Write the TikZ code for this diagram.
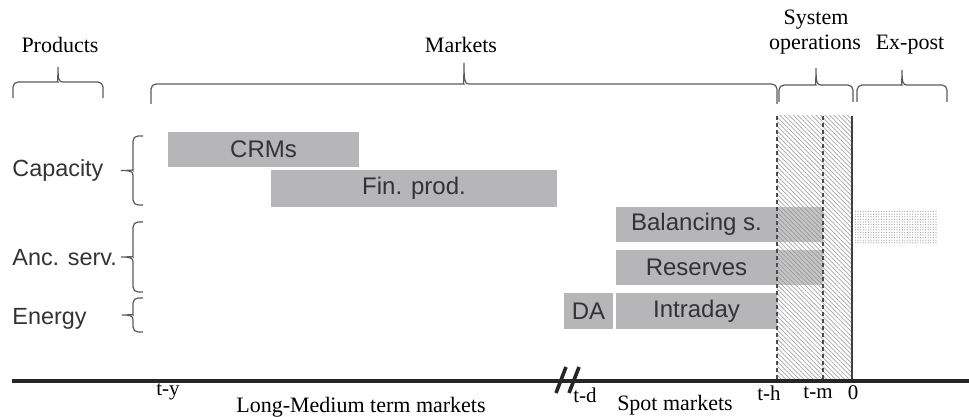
\documentclass[tikz,border=0pt]{standalone}
\usepackage{fontspec}
\setmainfont{Liberation Serif}
\setsansfont{Liberation Sans}
\usetikzlibrary{patterns.meta}
\definecolor{boxgray}{HTML}{B6B6B8}
\definecolor{txtgray}{HTML}{333335}
\definecolor{brgray}{HTML}{5A5A5A}
% horizontal brace pointing up: x1, x2, y of ends, y of bar, y of tip
\newcommand{\mytopbrace}[5]{%
  \draw[bracestyle] (#1,#3) [rounded corners=2.5pt] -- (#1,#4) -- ({(#1+#2)/2-5},#4) [sharp corners]
    .. controls ({(#1+#2)/2-1},#4) and ({(#1+#2)/2},{#4-2}) .. ({(#1+#2)/2},#5)
    .. controls ({(#1+#2)/2},{#4-2}) and ({(#1+#2)/2+1},#4) .. ({(#1+#2)/2+5},#4)
    [rounded corners=2.5pt] -- (#2,#4) -- (#2,#3);}
% vertical brace pointing left: y1, y2, x of ends, x of bar, x of tip
\newcommand{\myleftbrace}[5]{%
  \draw[bracestyle] (#3,#1) [rounded corners=2.5pt] -- (#4,#1) -- (#4,{(#1+#2)/2-5}) [sharp corners]
    .. controls (#4,{(#1+#2)/2-1}) and ({#4-2},{(#1+#2)/2}) .. (#5,{(#1+#2)/2})
    .. controls ({#4-2},{(#1+#2)/2}) and (#4,{(#1+#2)/2+1}) .. (#4,{(#1+#2)/2+5})
    [rounded corners=2.5pt] -- (#4,#2) -- (#3,#2);}
\begin{document}
\begin{tikzpicture}[x=0.5pt,y=-0.5pt,
  bracestyle/.style={draw=brgray,line width=0.6pt},
  box/.style={fill=boxgray,draw=none,inner sep=0pt,font=\sffamily\fontsize{12}{14}\selectfont,text=txtgray},
  prod/.style={anchor=west,inner sep=0pt,font=\sffamily\fontsize{11.7}{14}\selectfont,text=txtgray},
  head/.style={inner sep=0pt,font=\fontsize{11}{13}\selectfont,text=black},
  tick/.style={inner sep=0pt,font=\fontsize{10.5}{12}\selectfont,text=black}]
\useasboundingbox (0,0) rectangle (969,417);

% hatched system-operations zone
\path[fill=gray!8,pattern={Lines[angle=-45,distance=1.6pt,line width=0.35pt]},pattern color=gray!70]
  (777,116) rectangle (852,381);

% boxes
\node[box,minimum width=95.5pt,minimum height=17.5pt] (crm) at (263.5,149.5) {CRMs};
\node[box,minimum width=143pt,minimum height=18.5pt] (fin) at (414,188.5) {Fin. prod.};
\node[box,minimum width=80.5pt,minimum height=17.5pt] (bal) at (696.5,224.5) {Balancing s.};
\node[box,minimum width=80.5pt,minimum height=17.5pt] (res) at (696.5,267.5) {Reserves};
\node[box,minimum width=80.5pt,minimum height=18pt] (intra) at (696.5,311) {Intraday};
\node[box,minimum width=24.5pt,minimum height=18pt] (da) at (588.5,311) {DA};
% overlap parts in the hatched zone
\fill[black!45,fill opacity=0.5] (777,207) rectangle (823,242);
\fill[black!45,fill opacity=0.5] (777,250) rectangle (823,285);

% ex-post dotted area
\path[fill=gray!10,pattern={Dots[distance=1.3pt,radius=0.3pt]},pattern color=gray!75]
  (855,210) rectangle (937,243);

% vertical lines
\coordinate (hTop) at (777,116); \coordinate (hBot) at (777,381);
\coordinate (mTop) at (823,116); \coordinate (mBot) at (823,381);
\coordinate (zTop) at (852,116); \coordinate (zBot) at (852,381);
\draw[gray!60!black,line width=0.6pt,dash pattern=on 2pt off 1.5pt] (hTop) -- (hBot);
\draw[gray!60!black,line width=0.6pt,dash pattern=on 2pt off 1.5pt] (mTop) -- (mBot);
\draw[black!75,line width=1pt] (zTop) -- (zBot);

% axis
\coordinate (axL) at (12,381); \coordinate (axR) at (969,381);
\draw[black!85,line width=1.6pt] (axL) -- (axR);
\coordinate (b1a) at (556,393); \coordinate (b1b) at (566,367);
\coordinate (b2a) at (569,393); \coordinate (b2b) at (579,367);
\draw[black!85,line width=1.8pt] (b1a) -- (b1b);
\draw[black!85,line width=1.8pt] (b2a) -- (b2b);

% axis labels
\node[tick] (ty) at (168,392) {t-y};
\node[tick] (td) at (585,395) {t-d};
\node[tick] (th) at (769,393) {t-h};
\node[tick] (tm) at (818,393) {t-m};
\node[tick] (zero) at (853,393) {0};
\node[head] (lm) at (361,407) {Long-Medium term markets};
\node[head] (spot) at (675,405) {Spot markets};

% top braces and headings
\mytopbrace{13}{103}{98}{82}{67}
\mytopbrace{151}{777}{104}{84}{63}
\mytopbrace{779}{853}{102}{85}{68}
\mytopbrace{857}{947}{102}{85}{70}
\node[head] (hprod) at (60,45) {Products};
\node[head] (hmark) at (461,45) {Markets};
\node[head] (hsys1) at (816,20) {System};
\node[head] (hsys2) at (815,45) {operations};
\node[head] (hex) at (910,45) {Ex-post};

% product labels and braces
\node[prod] (cap) at (12,170) {Capacity};
\node[prod] (anc) at (12,258) {Anc. serv.};
\node[prod] (en) at (12,319) {Energy};
\myleftbrace{136}{205}{143}{133}{121}
\myleftbrace{222}{292}{143}{133}{121}
\myleftbrace{298}{332}{143}{133}{122}
\end{tikzpicture}
\end{document}
